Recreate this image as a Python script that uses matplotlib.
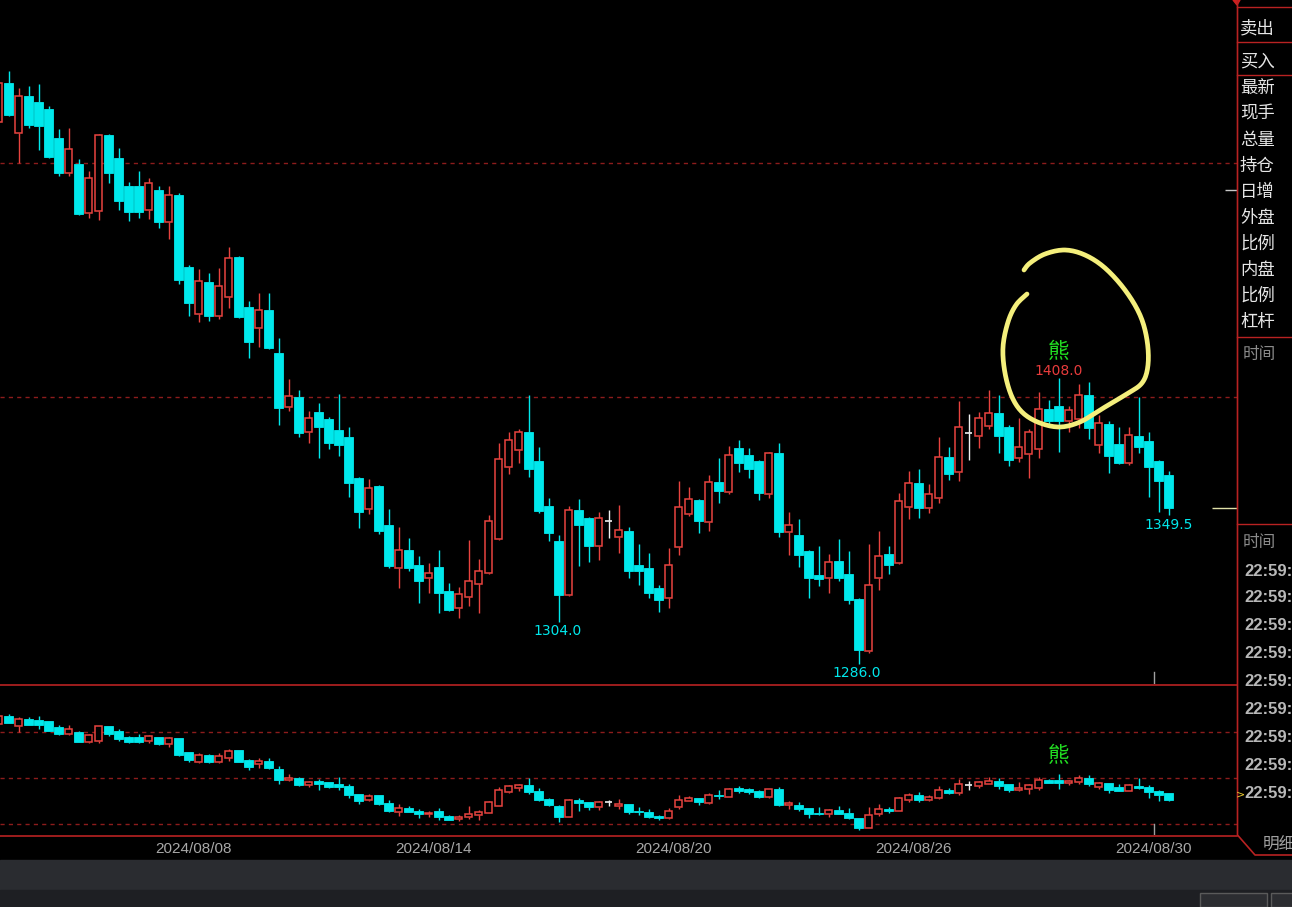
import numpy as np
import matplotlib
matplotlib.use('Agg')
import matplotlib.pyplot as plt
from matplotlib.patches import Rectangle, Polygon
from matplotlib.lines import Line2D

plt.rcParams['font.family'] = ['Noto Sans CJK SC', 'DejaVu Sans']

# ---------------- data (OHLC per bar) ----------------
opens = [1517.5, 1534.2, 1512.8, 1528.6, 1526.1, 1523.1, 1510.7, 1495.7, 1499.6, 1478.6,
         1479.5, 1512.0, 1502.1, 1490.2, 1490.2, 1479.9, 1488.5, 1474.8, 1486.3, 1455.6,
         1435.5, 1449.2, 1434.6, 1442.7, 1459.8, 1438.5, 1429.5, 1437.2, 1418.8, 1395.7,
         1400.0, 1385.0, 1393.6, 1390.6, 1385.9, 1382.9, 1365.4, 1352.1, 1362.0, 1345.3,
         1326.9, 1334.6, 1328.2, 1322.6, 1327.3, 1317.1, 1309.8, 1314.5, 1320.1, 1324.8,
         1339.3, 1370.1, 1377.3, 1385.0, 1372.6, 1353.4, 1338.5, 1315.4, 1351.7, 1348.3,
         1336.3, 1347.0, 1340.2, 1342.7, 1328.2, 1326.9, 1318.4, 1314.1, 1335.9, 1350.0,
         1356.0, 1346.6, 1363.7, 1359.4, 1378.2, 1375.2, 1372.6, 1358.5, 1376.1, 1342.3,
         1341.0, 1334.2, 1323.9, 1322.6, 1329.9, 1324.4, 1313.7, 1291.4, 1322.6, 1332.9,
         1329.1, 1353.0, 1363.2, 1352.6, 1356.8, 1374.4, 1367.9, 1384.6, 1383.3, 1387.6,
         1393.2, 1387.2, 1373.9, 1375.6, 1377.8, 1394.9, 1396.2, 1389.7, 1390.6, 1400.9,
         1379.5, 1388.5, 1379.9, 1371.8, 1383.3, 1381.2, 1372.6, 1366.7]
closes = [1534.2, 1520.5, 1528.6, 1516.3, 1515.8, 1502.6, 1495.7, 1506.0, 1478.2, 1493.6,
          1512.0, 1495.7, 1483.8, 1479.1, 1479.1, 1491.5, 1474.8, 1486.3, 1450.0, 1440.2,
          1449.6, 1434.6, 1447.4, 1459.4, 1434.2, 1423.5, 1437.2, 1420.9, 1395.3, 1400.4,
          1384.6, 1391.0, 1387.2, 1380.3, 1379.5, 1363.2, 1350.8, 1361.1, 1342.7, 1327.8,
          1334.6, 1326.9, 1321.4, 1324.8, 1316.2, 1309.0, 1315.8, 1321.4, 1325.6, 1347.0,
          1373.5, 1381.6, 1385.0, 1369.2, 1351.3, 1341.9, 1315.4, 1351.7, 1345.3, 1336.3,
          1348.3, 1347.0, 1343.2, 1325.6, 1325.6, 1316.2, 1313.2, 1328.2, 1353.0, 1356.4,
          1347.0, 1363.7, 1359.8, 1375.2, 1371.8, 1369.2, 1359.0, 1376.1, 1342.3, 1345.3,
          1332.5, 1322.6, 1322.2, 1329.5, 1322.6, 1313.2, 1291.9, 1319.6, 1332.0, 1328.2,
          1355.6, 1363.2, 1352.6, 1358.5, 1374.4, 1367.1, 1387.2, 1384.6, 1391.0, 1393.2,
          1383.3, 1373.1, 1378.6, 1385.0, 1394.9, 1389.7, 1389.7, 1394.4, 1400.9, 1386.8,
          1388.9, 1374.8, 1371.8, 1383.8, 1378.6, 1370.1, 1364.1, 1352.6]
highs = [1535.5, 1539.3, 1532.1, 1532.9, 1533.8, 1524.4, 1514.5, 1515.0, 1501.7, 1496.6,
         1512.5, 1512.5, 1506.4, 1491.9, 1496.6, 1493.6, 1490.2, 1490.2, 1487.2, 1456.4,
         1454.7, 1453.0, 1455.1, 1464.1, 1460.3, 1441.0, 1444.4, 1444.4, 1425.2, 1407.7,
         1403.0, 1394.0, 1397.4, 1391.5, 1401.3, 1387.2, 1365.8, 1365.0, 1362.4, 1352.1,
         1344.4, 1339.7, 1332.0, 1329.1, 1334.6, 1320.5, 1318.8, 1338.9, 1330.8, 1349.6,
         1380.3, 1385.0, 1386.3, 1400.9, 1378.6, 1356.8, 1341.0, 1353.4, 1356.4, 1348.7,
         1350.8, 1351.7, 1353.8, 1344.4, 1337.2, 1333.3, 1319.6, 1335.5, 1364.1, 1361.5,
         1356.4, 1366.7, 1373.9, 1379.1, 1381.6, 1378.2, 1373.1, 1376.5, 1380.3, 1350.8,
         1347.9, 1334.6, 1336.3, 1332.9, 1339.3, 1334.2, 1314.1, 1337.2, 1342.7, 1336.3,
         1359.0, 1368.4, 1369.2, 1362.8, 1382.9, 1378.6, 1398.3, 1392.7, 1393.6, 1403.0,
         1400.9, 1388.0, 1391.0, 1386.3, 1402.1, 1398.7, 1408.0, 1396.2, 1405.6, 1406.4,
         1392.3, 1389.7, 1387.2, 1387.2, 1400.0, 1385.0, 1373.1, 1368.4]
lows = [1514.0, 1520.1, 1500.0, 1515.0, 1505.6, 1502.1, 1494.5, 1494.5, 1477.8, 1476.5,
        1475.6, 1491.5, 1479.9, 1475.2, 1476.5, 1476.1, 1472.2, 1467.5, 1448.3, 1434.6,
        1432.1, 1432.5, 1433.3, 1438.0, 1433.8, 1416.7, 1421.4, 1420.5, 1388.0, 1394.0,
        1382.9, 1380.3, 1373.9, 1377.8, 1374.8, 1357.3, 1344.0, 1350.0, 1341.4, 1326.9,
        1318.4, 1325.6, 1312.0, 1316.2, 1307.7, 1308.5, 1305.5, 1310.7, 1307.7, 1324.4,
        1338.9, 1367.1, 1371.8, 1365.8, 1350.4, 1338.5, 1304.0, 1315.0, 1327.8, 1329.5,
        1330.3, 1339.7, 1333.3, 1322.6, 1319.6, 1314.1, 1308.1, 1309.8, 1332.5, 1349.1,
        1341.9, 1342.7, 1354.7, 1358.5, 1367.9, 1365.4, 1356.0, 1356.8, 1340.2, 1332.5,
        1327.3, 1314.1, 1319.2, 1316.2, 1321.4, 1311.5, 1286.0, 1290.6, 1317.5, 1324.4,
        1328.6, 1347.9, 1348.3, 1350.4, 1354.7, 1364.5, 1364.1, 1373.1, 1378.2, 1386.3,
        1376.1, 1370.5, 1372.2, 1365.4, 1373.9, 1388.5, 1376.5, 1385.0, 1386.8, 1382.0,
        1376.1, 1367.5, 1371.4, 1370.9, 1376.1, 1357.3, 1350.8, 1349.5]

date_labels = ["2024/08/08", "2024/08/14", "2024/08/20", "2024/08/26", "2024/08/30"]
date_pos = [19.45, 43.45, 67.45, 91.45, 115.45]

side_labels = ["卖出", "买入", "最新", "现手", "总量", "持仓", "日增", "外盘", "比例", "内盘", "比例", "杠杆"]
side_y = [28, 62, 88, 114, 140, 166, 192, 218, 244, 270, 296, 322]
time_rows = ["22:59:"] * 9
time_y = [571, 598, 626, 654, 682, 710, 738, 766, 794]

# ---------------- style ----------------
W, H = 1292, 907
CYAN = '#00e8ec'
RED = '#e8433f'
WHITE = '#f0f0f0'
GRID = '#8c1c1c'
BORDER = '#b82222'

fig = plt.figure(figsize=(W / 100, H / 100), dpi=100, facecolor='black')

def fx(px):
    return px / W

def fy(py):
    return 1 - py / H

n = len(opens)
xl = (0 + 1.5) / 10, (1237 + 1.5) / 10

ax = fig.add_axes([0, fy(684), 1237 / W, 684 / H])
ax2 = fig.add_axes([0, fy(835), 1237 / W, 150 / H])
for a in (ax, ax2):
    a.set_facecolor('black')
    for s in a.spines.values():
        s.set_visible(False)
    a.set_xlim(*xl)
    a.tick_params(length=0)
    a.set_yticks([])
ax.set_xticks([])
ax.set_ylim(1400 - 287 / 2.34, 1400 + 397 / 2.34)
ax2.set_ylim(1400 - 57 / 0.46, 1400 + 93 / 0.46)

for v in (1400, 1500):
    ax.axhline(v, color=GRID, lw=1, ls=(0, (3, 3)), zorder=0)
for v in (1300, 1400, 1500):
    ax2.axhline(v, color=GRID, lw=1, ls=(0, (3, 3)), zorder=0)


def draw_candles(a, wr, wc):
    for i, (o, h, l, c) in enumerate(zip(opens, highs, lows, closes)):
        if c > o:
            col = RED
        elif c < o:
            col = CYAN
        else:
            col = WHITE
        top, bot = max(o, c), min(o, c)
        a.vlines(i, top, h, color=col, lw=1, zorder=2)
        a.vlines(i, l, bot, color=col, lw=1, zorder=2)
        if c > o:
            a.add_patch(Rectangle((i - wr / 2, bot), wr, top - bot, facecolor='black',
                                  edgecolor=col, lw=1.1, zorder=3))
        elif c < o:
            a.add_patch(Rectangle((i - wc / 2, bot), wc, top - bot, facecolor=col,
                                  edgecolor=col, lw=0.6, zorder=3))
        else:
            a.hlines(o, i - wr / 2, i + wr / 2, color=col, lw=1.2, zorder=3)


draw_candles(ax, 0.78, 0.82)
draw_candles(ax2, 0.78, 0.82)

# value labels
i_lo1 = lows.index(1304.0)
i_lo2 = lows.index(1286.0)
i_hi = highs.index(1408.0)
lab_kw = dict(ha='center', va='center', fontsize=10, family='DejaVu Sans', textcoords='offset points')
ax.annotate(f"{lows[i_lo1]:.1f}", (i_lo1, lows[i_lo1]), xytext=(-1, -7), color=CYAN, **lab_kw)
ax.annotate(f"{lows[i_lo2]:.1f}", (i_lo2, lows[i_lo2]), xytext=(-1, -7), color=CYAN, **lab_kw)
ax.annotate(f"{lows[-1]:.1f}", (n - 1, lows[-1]), xytext=(0, -7), color=CYAN, **lab_kw)
ax.annotate(f"{highs[i_hi]:.1f}", (i_hi, highs[i_hi]), xytext=(0, 5.5), color='#e83c3c', **lab_kw)
ax.annotate("熊", (i_hi, highs[i_hi]), xytext=(0, 19), textcoords='offset points', ha='center',
            va='center', fontsize=15.5, color='#22dd22', family='Noto Sans CJK SC')
ax2.annotate("熊", (i_hi, highs[i_hi]), xytext=(0, 13), textcoords='offset points', ha='center',
             va='center', fontsize=15.5, color='#22dd22', family='Noto Sans CJK SC')

# last price marker & small markers
ax.hlines(closes[-1], (1212 + 1.5) / 10, xl[1], color='#e0e0a8', lw=1, zorder=4)
ax.hlines(1400 + (397 - 190) / 2.34, (1225 + 1.5) / 10, xl[1], color='#c8c8c8', lw=1, zorder=4)
ax.axvline((1154 + 1.5) / 10, 0, 12 / 684, color='#a0a0a0', lw=1)
ax2.axvline((1154 + 1.5) / 10, 0, 11 / 150, color='#a0a0a0', lw=1)

# date labels
ax2.set_xticks(date_pos)
ax2.set_xticklabels(date_labels, color='#a8a8a8', fontsize=11, family='Liberation Sans')
ax2.tick_params(axis='x', pad=5)

# borders
def fline(xs, ys, color=BORDER, lw=1.2, **kw):
    fig.add_artist(Line2D([fx(x) for x in xs], [fy(y) for y in ys], color=color, lw=lw,
                          transform=fig.transFigure, **kw))

fline([0, 1237], [684.5, 684.5])
fline([0, 1237], [835.5, 835.5])
fline([1237.5, 1237.5, 1255, 1292], [0, 835, 855, 855])
for yy in (7, 42, 75, 337, 524):
    fline([1237, 1292], [yy, yy], lw=1)
fig.add_artist(Polygon([[fx(1233), fy(0)], [fx(1240), fy(0)], [fx(1237), fy(5)]],
                       closed=True, color='#d02020', transform=fig.transFigure))

# right panel text
for t, yy in zip(side_labels, side_y):
    fig.text(fx(1240), fy(yy), t, color='#e6e6e6', fontsize=12.5, ha='left', va='center',
             family='Noto Sans CJK SC')
fig.text(fx(1243), fy(355), "时间", color='#8a8a8a', fontsize=12, ha='left', va='center', family='Noto Sans CJK SC')
fig.text(fx(1243), fy(543), "时间", color='#8a8a8a', fontsize=12, ha='left', va='center', family='Noto Sans CJK SC')
for t, yy in zip(time_rows, time_y):
    fig.text(fx(1244), fy(yy), t, color='#b8b8b8', fontsize=12, fontweight='bold', ha='left',
             va='center', family='Liberation Sans')
fig.text(fx(1236), fy(794), ">", color='#e8c830', fontsize=8, ha='left', va='center', family='DejaVu Sans')
fig.text(fx(1263), fy(845), "明细", color='#a0a0a0', fontsize=12, ha='left', va='center', family='Noto Sans CJK SC')

# bottom strips
fig.add_artist(Rectangle((0, fy(890)), 1, 30 / H, color='#2a2c30', transform=fig.transFigure))
fig.add_artist(Rectangle((0, 0), 1, 17 / H, color='#1e1f23', transform=fig.transFigure))
fig.add_artist(Rectangle((fx(1200), 0), 67 / W, 14 / H, facecolor='#2c2d31', edgecolor='#5a5a5a',
                         lw=1, transform=fig.transFigure))
fig.add_artist(Rectangle((fx(1271), 0), 25 / W, 14 / H, facecolor='#2c2d31', edgecolor='#5a5a5a',
                         lw=1, transform=fig.transFigure))

# hand-drawn yellow circle annotation (figure pixels)
circ = [(1027, 294), (1016, 305), (1008, 322), (1003, 347), (1005, 373), (1012, 397), (1023, 413),
        (1040, 423), (1060, 427), (1080, 422), (1100, 410), (1125, 395), (1142, 383), (1148, 365),
        (1147, 340), (1140, 315), (1125, 290), (1105, 268), (1085, 255), (1065, 250), (1045, 254),
        (1030, 263), (1024, 270)]

def catmull(pts, m=10):
    P = np.asarray(pts, float)
    P = np.vstack([P[0], P, P[-1]])
    out = []
    for j in range(1, len(P) - 2):
        p0, p1, p2, p3 = P[j - 1], P[j], P[j + 1], P[j + 2]
        for t in np.linspace(0, 1, m, endpoint=False):
            t2, t3 = t * t, t * t * t
            out.append(0.5 * (2 * p1 + (-p0 + p2) * t + (2 * p0 - 5 * p1 + 4 * p2 - p3) * t2
                              + (-p0 + 3 * p1 - 3 * p2 + p3) * t3))
    out.append(P[-2])
    return np.array(out)

cc = catmull(circ)
fline(cc[:, 0], cc[:, 1], color='#f4ef7c', lw=3.4, solid_capstyle='round', zorder=10)

fig.savefig('out.png', dpi=100, facecolor='black')
